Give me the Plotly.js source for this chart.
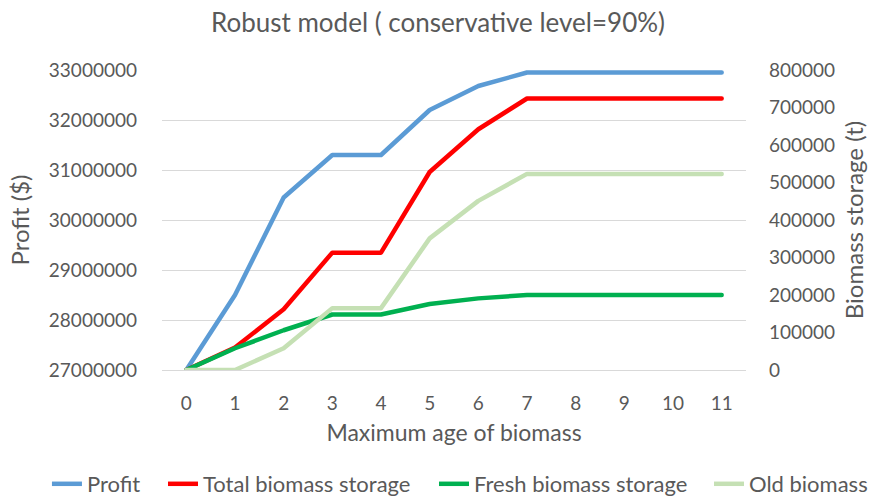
<!DOCTYPE html>
<html>
<head>
<meta charset="utf-8">
<script src="https://cdn.plot.ly/plotly-3.0.1.min.js"></script>
<style>
html,body{margin:0;padding:0;background:#fff;}
#chart{width:876px;height:499px;}
.scatterlayer path.js-line{stroke-linecap:round;stroke-linejoin:round;}
</style>
</head>
<body>
<div id="chart"></div>
<script>
const categories = ['0','1','2','3','4','5','6','7','8','9','10','11'];
const profit = [27000000, 28500000, 30450000, 31300000, 31300000, 32200000, 32680000, 32950000, 32950000, 32950000, 32950000, 32950000];
const totalBiomass = [0, 60000, 162000, 313000, 313000, 528000, 642000, 724000, 724000, 724000, 724000, 724000];
const freshBiomass = [0, 58000, 106000, 148000, 148000, 176000, 191000, 200000, 200000, 200000, 200000, 200000];
const oldBiomass = [0, 0, 58000, 165000, 165000, 351000, 451000, 523000, 523000, 523000, 523000, 523000];

const FONT = 'Lato, "Liberation Sans", sans-serif';
const TXT = '#595959';
function line(name, y, color, axis, legendId){
  return {x: categories, y: y, name: name, type: 'scatter', mode: 'lines', yaxis: axis,
    legend: legendId, line: {color: color, width: 4.5}, hoverinfo: 'skip'};
}
const data = [
  line('Profit', profit, '#5B9BD5', 'y', 'legend'),
  line('Total biomass storage', totalBiomass, '#FF0000', 'y2', 'legend2'),
  line('Fresh biomass storage', freshBiomass, '#00B050', 'y2', 'legend3'),
  line('Old biomass', oldBiomass, '#C5E0B4', 'y2', 'legend4')
];
function leg(x){
  return {orientation: 'h', x: x, xanchor: 'left', y: -0.38, yanchor: 'middle',
    font: {size: 22, color: TXT, family: FONT}, itemwidth: 30, bgcolor: 'rgba(0,0,0,0)'};
}
const layout = {
  width: 876, height: 499,
  margin: {l: 162, r: 130, t: 70, b: 129, autoexpand: false},
  paper_bgcolor: '#fff', plot_bgcolor: '#fff',
  font: {family: FONT, color: TXT, size: 19},
  title: {text: 'Robust model ( conservative level=90%)', font: {size: 26, color: TXT, family: FONT}, x: 0.5, xanchor: 'center', y: 0.955, yanchor: 'middle'},
  showlegend: true,
  legend: leg(-0.197),
  legend2: leg(0.0017),
  legend3: leg(0.4658),
  legend4: leg(0.9366),
  xaxis: {type: 'category', range: [-0.5, 11.5], showgrid: false, zeroline: false,
    showline: true, linecolor: '#D9D9D9', linewidth: 1, ticks: '', ticklabelstandoff: 16,
    tickfont: {size: 19, color: TXT},
    title: {text: 'Maximum age of biomass', font: {size: 23, color: TXT}, standoff: 12}},
  yaxis: {range: [27000000, 33000000], dtick: 1000000, tick0: 27000000, tickformat: 'd',
    showgrid: true, gridcolor: '#D9D9D9', gridwidth: 1, zeroline: false, showline: false,
    ticks: '', ticklabelstandoff: 24, tickfont: {size: 19, color: TXT},
    title: {text: 'Profit ($)', font: {size: 24, color: TXT}, standoff: 12}},
  yaxis2: {range: [0, 800000], dtick: 100000, tick0: 0, tickformat: 'd', overlaying: 'y', side: 'right',
    showgrid: false, zeroline: false, showline: false, ticks: '', ticklabelstandoff: 22,
    tickfont: {size: 19, color: TXT},
    title: {text: 'Biomass storage (t)', font: {size: 24, color: TXT}, standoff: 12}}
};
Plotly.newPlot('chart', data, layout, {displayModeBar: false, staticPlot: true});
</script>
</body>
</html>
